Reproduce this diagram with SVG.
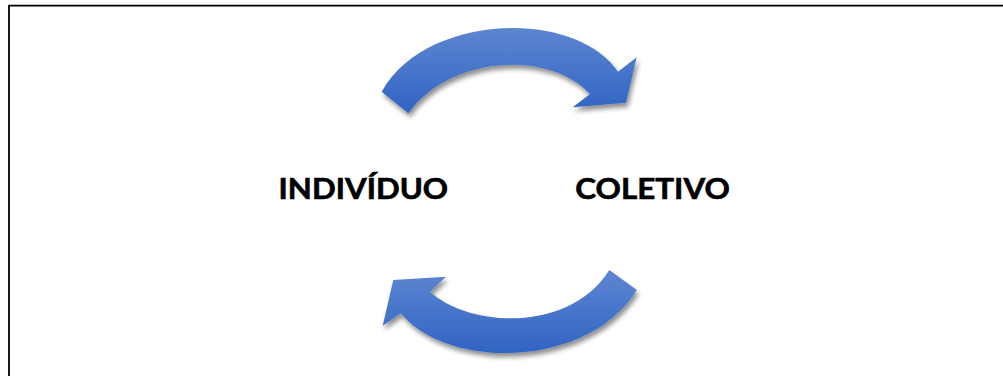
<svg xmlns="http://www.w3.org/2000/svg" width="1003" height="376" viewBox="0 0 1003 376">
  <defs>
    <linearGradient id="arrowFill" x1="0" y1="0" x2="0" y2="1">
      <stop offset="0" stop-color="#5d86d0"/>
      <stop offset="1" stop-color="#3064c3"/>
    </linearGradient>
    <filter id="softShadow" x="-10%" y="-20%" width="120%" height="150%">
      <feGaussianBlur in="SourceAlpha" stdDeviation="2.5"/>
      <feOffset dx="2" dy="4" result="blur"/>
      <feComponentTransfer>
        <feFuncA type="linear" slope="0.45"/>
      </feComponentTransfer>
      <feMerge>
        <feMergeNode/>
        <feMergeNode in="SourceGraphic"/>
      </feMerge>
    </filter>
    <style>
      .arrow { fill: url(#arrowFill); filter: url(#softShadow); }
      .label { font-family: Lato, "Open Sans", "Liberation Sans", sans-serif; font-weight: bold; font-size: 28px; fill: #000; stroke: #000; stroke-width: 0.6; }
      .frame { fill: none; stroke: #000; stroke-width: 1.8; }
    </style>
  </defs>

  <rect width="1003" height="376" fill="#fff"/>

  <!-- frame: left and top edges -->
  <path class="frame" d="M9,376 V5.7 H1003"/>

  <g id="connectors">
    <!-- upper curved arrow, left to right -->
    <path id="arrow-top" class="arrow" d="M381.7,91.7 C425,13 575,8 618,71.7 L636.7,57.3 L626,102.7 L572.7,107.3 L590,94 C550,50 450,55 408.3,113.3 Z"/>
    <!-- lower curved arrow, right to left -->
    <path id="arrow-bottom" class="arrow" d="M636.7,290 C590,367 450,372 400.7,313.3 L382.7,325.7 L393.3,280 L446,276.7 L430,291.7 C470,328 570,333 609.3,270 Z"/>
  </g>

  <g id="node-individuo">
    <text class="label" x="278.6" y="199" textLength="169.5" lengthAdjust="spacingAndGlyphs">INDIVÍDUO</text>
  </g>
  <g id="node-coletivo">
    <text class="label" x="575.3" y="199" textLength="154.5" lengthAdjust="spacingAndGlyphs">COLETIVO</text>
  </g>
</svg>
